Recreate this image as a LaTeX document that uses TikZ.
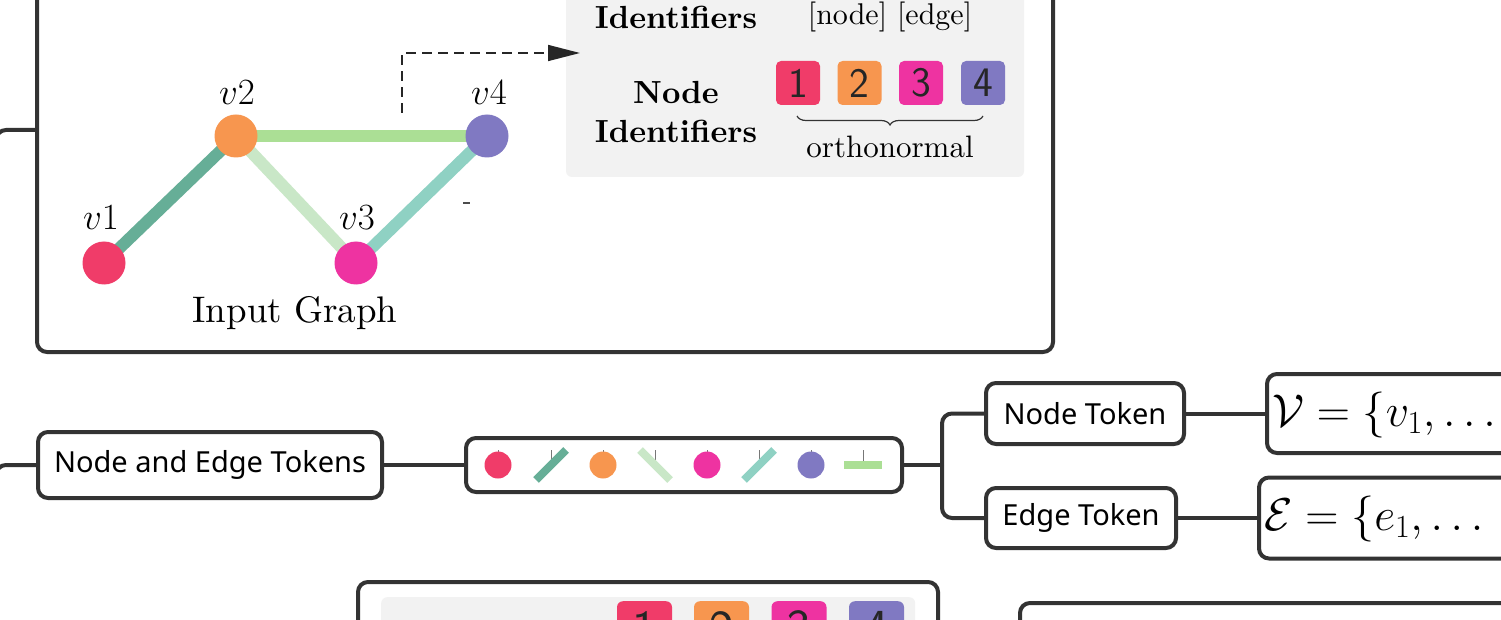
\documentclass[tikz,border=0pt]{standalone}
\usepackage{fix-cm}
\usepackage{fontspec}
\setmainfont{lmroman10-regular.otf}[BoldFont=lmroman10-bold.otf,
  ItalicFont=lmroman10-italic.otf, BoldItalicFont=lmroman10-bolditalic.otf]
\newfontfamily\mapfont{Noto Sans}
\usetikzlibrary{arrows.meta,decorations.pathreplacing}

\definecolor{linegray}{HTML}{333333}
\definecolor{cred}{HTML}{F03C69}
\definecolor{corange}{HTML}{F7964F}
\definecolor{cmagenta}{HTML}{EE33A1}
\definecolor{cpurple}{HTML}{8079C2}
\definecolor{eteal}{HTML}{66AE97}
\definecolor{epale}{HTML}{C9E7C7}
\definecolor{eaqua}{HTML}{8FD1C3}
\definecolor{egreen}{HTML}{ABDF95}
\definecolor{panelgray}{HTML}{F2F2F2}
\definecolor{tickgray}{HTML}{777777}

\begin{document}
\begin{tikzpicture}[x=1pt, y=-1pt,
  mapline/.style={draw=linegray, line width=4pt, rounded corners=10pt},
  mapbox/.style={draw=linegray, line width=4pt, rounded corners=10pt, fill=white, inner sep=0pt},
  topic/.style={mapbox, font=\mapfont\fontsize{29}{34}\selectfont},
  gedge/.style={line width=12pt},
  idsq/.style={rounded corners=5pt, minimum size=44pt, inner sep=0pt,
    font=\sffamily\fontsize{42}{42}\selectfont, text=black!85},
  bigsq/.style={rounded corners=6pt, minimum size=55pt, inner sep=0pt,
    font=\sffamily\fontsize{52}{52}\selectfont, text=black!85},
  tickmark/.style={draw=tickgray, line width=1pt},
  tokbar/.style={line width=8pt},
  glabel/.style={font=\fontsize{37}{37}\selectfont, inner sep=0pt},
  panel/.style={fill=panelgray, rounded corners=6pt, inner sep=0pt},
]
\useasboundingbox (0,0) rectangle (1501,620);
\clip (0,0) rectangle (1501,620);

% ---------------- mind-map skeleton ----------------
\coordinate (trunk) at (-4,700);
\node[mapbox, minimum width=1016pt, minimum height=444pt] (topbox) at (545,130) {};
\node[topic, minimum width=344pt, minimum height=66pt] (net) at (210,465) {Node and Edge Tokens};
\node[mapbox, minimum width=436pt, minimum height=54pt] (tok) at (684,465) {};
\node[topic, minimum width=198pt, minimum height=61pt] (nt) at (1085,413.5) {Node Token};
\node[topic, minimum width=190pt, minimum height=60pt] (et) at (1081,518) {Edge Token};
\node[mapbox, anchor=west, minimum width=560pt, minimum height=79pt] (fv) at (1265,413.5) {};
\node[mapbox, anchor=west, minimum width=560pt, minimum height=81pt] (fe) at (1257,518) {};
\node[mapbox, minimum width=580pt, minimum height=118pt] (lowbox) at (648,641) {};
\node[mapbox, anchor=north west, minimum width=700pt, minimum height=100pt] (rbox) at (1018,601) {};
\coordinate (fork) at (942,465);

\draw[mapline] (topbox.west) -| (trunk);
\draw[mapline] (net.west) -| (trunk);
\draw[mapline] (net.east) -- (tok.west);
\draw[mapline] (tok.east) -- (fork);
\draw[mapline] (fork) |- (nt.west);
\draw[mapline] (fork) |- (et.west);
\draw[mapline] (nt.east) -- (fv.west);
\draw[mapline] (et.east) -- (fe.west);

% formulas
\node[anchor=west, inner sep=0pt, font=\fontsize{46}{46}\selectfont] (fvt) at (1272,415)
  {$\mathcal{V}=\{v_1,\ldots$};
\node[anchor=west, inner sep=0pt, font=\fontsize{46}{46}\selectfont] (fet) at (1264,519)
  {$\mathcal{E}=\{e_1,\ldots$};

% ---------------- input graph ----------------
\coordinate (v1) at (104,263);
\coordinate (v2) at (236,136);
\coordinate (v3) at (356,263);
\coordinate (v4) at (487,136);
\draw[gedge, eteal] (v1) -- (v2);
\draw[gedge, epale] (v2) -- (v3);
\draw[gedge, eaqua] (v3) -- (v4);
\draw[gedge, egreen] (v2) -- (v4);
\fill[cred] (v1) circle (21.5);
\fill[corange] (v2) circle (21.5);
\fill[cmagenta] (v3) circle (21.5);
\fill[cpurple] (v4) circle (21.5);
\node[glabel] (l1) at (101,218) {$v1$};
\node[glabel] (l2) at (237,93) {$v2$};
\node[glabel] (l3) at (357,218) {$v3$};
\node[glabel] (l4) at (489,93) {$v4$};
\node[glabel] (cap) at (295,313) {Input Graph};
\draw[line width=1.5pt, black!70] (463,203) -- (470,203);

% ---------------- identifier panel ----------------
\node[panel, minimum width=458pt, minimum height=227pt] (idpanel) at (795,63.5) {};
\coordinate (dst) at (402,113);
\coordinate (dtip) at (580,53);
\draw[black!85, line width=1.5pt, dash pattern=on 10pt off 6pt,
  -{Triangle[length=32pt, width=16pt]}] (dst) |- (dtip);

\node[inner sep=0pt, font=\bfseries\fontsize{32}{32}\selectfont] (eidl) at (676,17) {Identifiers};
\node[inner sep=0pt, font=\fontsize{30}{30}\selectfont] (eids) at (890,17) {[node] [edge]};
\node[inner sep=0pt, align=center, font=\bfseries\fontsize{32}{39}\selectfont] (nidl) at (676,112)
  {Node\\Identifiers};
\node[idsq, fill=cred] (s1) at (798,83) {1};
\node[idsq, fill=corange] (s2) at (859.5,83) {2};
\node[idsq, fill=cmagenta] (s3) at (921,83) {3};
\node[idsq, fill=cpurple] (s4) at (983,83) {4};
\draw[decorate, decoration={brace, amplitude=9pt, mirror}, line width=1.2pt, black!80]
  (797,116) -- (983,116);
\node[inner sep=0pt, font=\fontsize{31}{31}\selectfont] (orth) at (890,147) {orthonormal};

% ---------------- token strip ----------------
\foreach \x in {498,551,603,655,707,759,811,863}
  \draw[tickmark] (\x,450) -- (\x,465);
\fill[cred] (498,465) circle (13.5);
\draw[tokbar, eteal] (536,480) -- (566,450);
\fill[corange] (603,465) circle (13.5);
\draw[tokbar, epale] (640,450) -- (670,480);
\fill[cmagenta] (707,465) circle (13.5);
\draw[tokbar, eaqua] (744,480) -- (774,450);
\fill[cpurple] (811,465) circle (13.5);
\draw[tokbar, egreen] (844,465) -- (882,465);

% ---------------- lower branch ----------------
\node[panel, anchor=north west, minimum width=534pt, minimum height=100pt] (lowpanel) at (381,597) {};
\node[bigsq, fill=cred, anchor=north] (b1) at (644.5,601) {1};
\node[bigsq, fill=corange, anchor=north] (b2) at (721.5,601) {2};
\node[bigsq, fill=cmagenta, anchor=north] (b3) at (799,601) {3};
\node[bigsq, fill=cpurple, anchor=north] (b4) at (876.5,601) {4};
\end{tikzpicture}
\end{document}
